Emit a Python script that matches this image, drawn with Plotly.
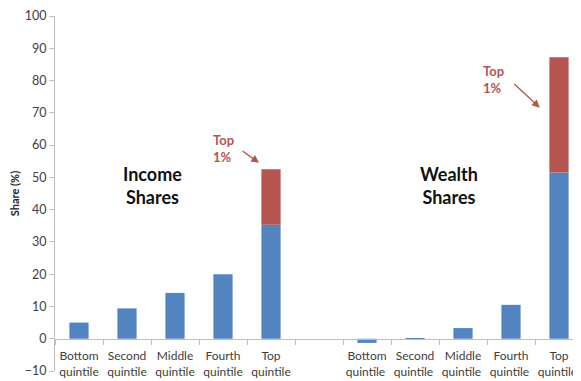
import plotly.graph_objects as go

categories = ["Bottom<br>quintile", "Second<br>quintile", "Middle<br>quintile", "Fourth<br>quintile", "Top<br>quintile",
              " ",
              "Bottom<br>quintile ", "Second<br>quintile ", "Middle<br>quintile ", "Fourth<br>quintile ", "Top<br>quintile "]
base_share = [5.0, 9.4, 14.2, 20.0, 35.3, None, -1.3, 0.2, 3.3, 10.5, 51.5]
top1_share = [None, None, None, None, 17.2, None, None, None, None, None, 35.7]
y_ticks = [-10, 0, 10, 20, 30, 40, 50, 60, 70, 80, 90, 100]

BLUE = "#5285BF"
RED = "#B65450"
FONT = "Lato, 'Open Sans', sans-serif"

fig = go.Figure()
fig.add_bar(x=categories, y=base_share, marker_color=BLUE, marker_line_width=0, showlegend=False)
fig.add_bar(x=categories, y=top1_share, marker_color=RED, marker_line_width=0, showlegend=False)

fig.update_layout(
    barmode="relative",
    bargap=0.6,
    width=581, height=381,
    margin=dict(l=47, r=6, t=8, b=18),
    paper_bgcolor="white", plot_bgcolor="white",
    font=dict(family=FONT, color="#404040", size=12),
    xaxis=dict(
        type="category", categoryorder="array", categoryarray=categories,
        anchor="free", position=10 / 110, automargin=False,
        showline=True, linecolor="#BFBFBF", linewidth=1,
        ticks="outside", tickson="boundaries", ticklen=5, tickcolor="#BFBFBF",
        showgrid=False, tickangle=0, tickfont=dict(size=12, color="#404040"),
        ticklabelstandoff=6,
        range=[-0.5, 10.5],
    ),
    yaxis=dict(
        range=[-10, 100], tickvals=y_ticks, showgrid=False, zeroline=False,
        automargin=False,
        showline=True, linecolor="#BFBFBF", linewidth=1,
        ticks="outside", ticklen=5, tickcolor="#BFBFBF",
        tickfont=dict(size=12.5, color="#404040"),
        title=dict(text="<b>Share (%)</b>", font=dict(size=11, color="#222"), standoff=5),
    ),
)

txt_font = dict(family=FONT, size=18, color="#111")
fig.add_annotation(x=1.53, y=47.4, xref="x", yref="y", text="<b>Income<br>Shares</b>",
                   showarrow=False, font=txt_font)
fig.add_annotation(x=7.7, y=47.4, xref="x", yref="y", text="<b>Wealth<br>Shares</b>",
                   showarrow=False, font=txt_font)

red_font = dict(family=FONT, size=13, color=RED)
fig.add_annotation(x=3.0, y=59.0, xref="x", yref="y", text="<b>Top<br>1%</b>", align="left",
                   showarrow=False, font=red_font)
fig.add_annotation(x=8.64, y=80.3, xref="x", yref="y", text="<b>Top<br>1%</b>", align="left",
                   showarrow=False, font=red_font)
fig.add_annotation(x=3.75, y=54.5, xref="x", yref="y", text="", showarrow=True,
                   ax=-18, ay=-13, arrowhead=2, arrowsize=1.2, arrowwidth=1.3, arrowcolor=RED)
fig.add_annotation(x=9.6, y=71.6, xref="x", yref="y", text="", showarrow=True,
                   ax=-27, ay=-25, arrowhead=2, arrowsize=1.2, arrowwidth=1.3, arrowcolor=RED)

fig.write_html("out.html")
